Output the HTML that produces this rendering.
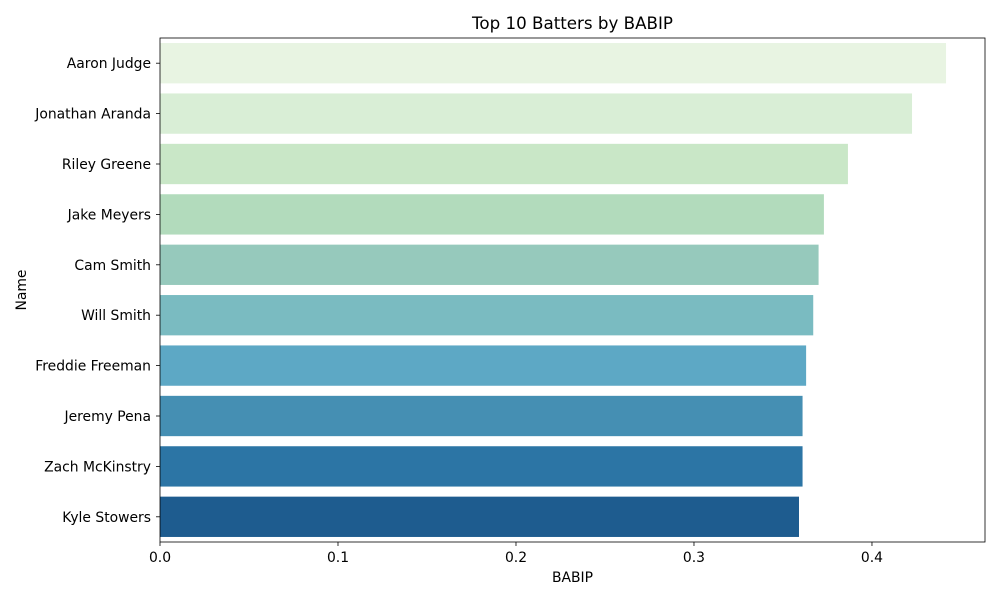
<!DOCTYPE html>
<html><head><meta charset="utf-8"><style>
body{margin:0;background:#fff;font-family:"DejaVu Sans","Liberation Sans",sans-serif;}
</style></head><body>
<svg id="chart" width="1000" height="600" xmlns="http://www.w3.org/2000/svg" font-family="DejaVu Sans, Liberation Sans, sans-serif"></svg>
<script>
const categories=["Aaron Judge","Jonathan Aranda","Riley Greene","Jake Meyers","Cam Smith","Will Smith","Freddie Freeman","Jeremy Pena","Zach McKinstry","Kyle Stowers"];
const values=[0.4416,0.4225,0.3865,0.373,0.370,0.367,0.363,0.361,0.361,0.359];
const tickValues=[0,0.1,0.2,0.3,0.4];
const tickLabels=["0.0","0.1","0.2","0.3","0.4"];
const colors=["#e8f4e2","#d9eed6","#c9e7c7","#b2dbbc","#96c9bc","#7abbc1","#5da8c5","#458fb3","#2c75a5","#1e5c8f"];
const L=160,R=985,T=38,B=542,xmax=0.4635;
const svg=document.getElementById('chart');
const NS="http://www.w3.org/2000/svg";
function x(v){return L+(v/xmax)*(R-L);}
const band=(B-T)/categories.length;
function y(i){return T+band*i;}
function mk(tag,attrs,text){const e=document.createElementNS(NS,tag);for(const k in attrs)e.setAttribute(k,attrs[k]);if(text!=null)e.textContent=text;svg.appendChild(e);return e;}
categories.forEach((c,i)=>{
  const r=mk('rect',{x:L,y:y(i)+band*0.1,width:x(values[i])-L,height:band*0.8,fill:colors[i]});
  
  
  mk('line',{x1:L-4,x2:L,y1:y(i)+band/2,y2:y(i)+band/2,stroke:'#000','stroke-width':0.8});
  const t=mk('text',{x:L-9,y:y(i)+band/2+5,'text-anchor':'end','font-size':13.9},c);
  
  
});
tickValues.forEach((v,i)=>{
  mk('line',{x1:x(v),x2:x(v),y1:B,y2:B+4,stroke:'#000','stroke-width':0.8});
  const t=mk('text',{x:x(v),y:B+20,'text-anchor':'middle','font-size':13.9},tickLabels[i]);
  
  
});
const f=mk('rect',{x:L,y:T,width:R-L,height:B-T,fill:'none',stroke:'#000','stroke-width':0.8});


const tt=mk('text',{x:(L+R)/2,y:T-9,'text-anchor':'middle','font-size':16.7},'Top 10 Batters by BABIP');


const xt=mk('text',{x:(L+R)/2,y:582,'text-anchor':'middle','font-size':13.9},'BABIP');


const yt=mk('text',{x:26,y:(T+B)/2,'text-anchor':'middle','font-size':13.9,transform:'rotate(-90 26 '+((T+B)/2)+')'},'Name');


</script>
</body></html>
